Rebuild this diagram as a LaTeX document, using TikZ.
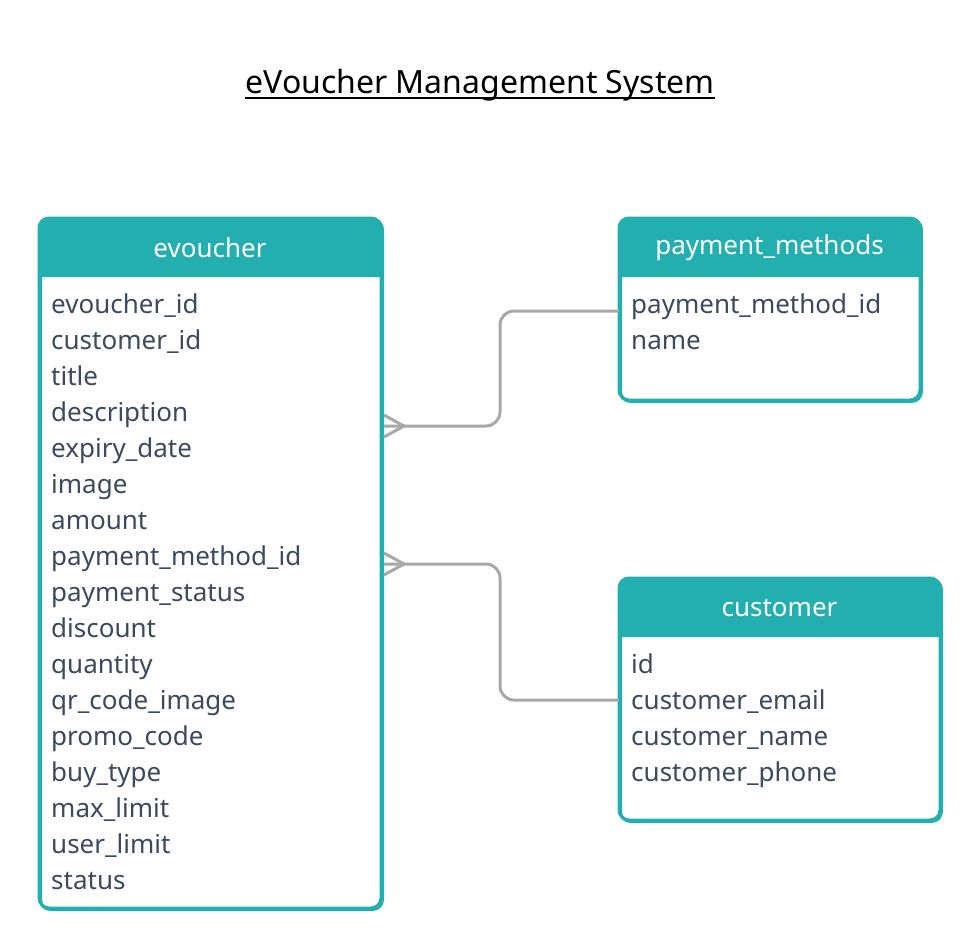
\documentclass[tikz,border=0pt]{standalone}
\usepackage{fontspec}
\setmainfont{Noto Sans}
\usetikzlibrary{calc}
\definecolor{tealc}{HTML}{23AFAF}
\definecolor{txtc}{HTML}{3B4A5E}
\definecolor{linec}{HTML}{A8A8A8}
\tikzset{
  tbox/.style={draw=tealc, line width=3pt, rounded corners=10pt, fill=white},
  thead/.style={fill=tealc},
  htext/.style={text=white, font=\fontsize{26}{30}\selectfont, inner sep=0pt},
  row/.style={text=txtc, font=\fontsize{26}{30}\selectfont, inner sep=0pt, anchor=base west},
  conn/.style={draw=linec, line width=3pt, rounded corners=14pt},
  crow/.style={draw=linec, line width=3pt}
}
\begin{document}
\begin{tikzpicture}[x=1pt,y=-1pt]
\useasboundingbox (0,0) rectangle (980,948);
\node[font=\fontsize{32}{36}\selectfont, inner sep=0pt, anchor=base] (title) at (480,93) {eVoucher Management System};
\draw[line width=2pt] ($(title.base west)+(0,5)$) -- ($(title.base east)+(0,5)$);

% evoucher table
\node[tbox, minimum width=342pt, minimum height=690pt, anchor=north west, inner sep=0pt] (evoucher) at (39,218) {};
\fill[thead] (39,277) [rounded corners=10pt]-- (39,218) -- (381,218) [sharp corners]-- (381,277) -- cycle;
\draw[tealc, line width=3pt, rounded corners=10pt] (39,218) rectangle (381,908);
\node[htext] (evh) at (210,248) {evoucher};
\foreach \t [count=\i from 0] in {evoucher\_id,customer\_id,title,description,expiry\_date,image,amount,payment\_method\_id,payment\_status,discount,quantity,qr\_code\_image,promo\_code,buy\_type,max\_limit,user\_limit,status}
  \node[row] (ev\i) at (51,{313+36*\i}) {\t};

% payment_methods table
\node[tbox, minimum width=301pt, minimum height=182pt, anchor=north west, inner sep=0pt] (pm) at (619,218) {};
\fill[thead] (619,277) [rounded corners=10pt]-- (619,218) -- (920,218) [sharp corners]-- (920,277) -- cycle;
\draw[tealc, line width=3pt, rounded corners=10pt] (619,218) rectangle (920,400);
\node[htext] (pmh) at (769.5,248) {payment\_methods};
\node[row] (pm0) at (631,313) {payment\_method\_id};
\node[row] (pm1) at (631,349) {name};

% customer table
\node[tbox, minimum width=321pt, minimum height=242pt, anchor=north west, inner sep=0pt] (cu) at (619,578) {};
\fill[thead] (619,637) [rounded corners=10pt]-- (619,578) -- (940,578) [sharp corners]-- (940,637) -- cycle;
\draw[tealc, line width=3pt, rounded corners=10pt] (619,578) rectangle (940,820);
\node[htext] (cuh) at (779.5,608) {customer};
\node[row] (cu0) at (631,673) {id};
\node[row] (cu1) at (631,709) {customer\_email};
\node[row] (cu2) at (631,745) {customer\_name};
\node[row] (cu3) at (631,781) {customer\_phone};

% connectors
\coordinate (a1) at (evoucher.east |- 0,426);
\coordinate (b1) at (pm.west |- 0,311);
\coordinate (a2) at (evoucher.east |- 0,564);
\coordinate (b2) at (cu.west |- 0,700);
\draw[conn] (a1) -- (500,426) -- (500,311) -- (b1);
\draw[crow] ($(a1)+(0,-11)$) -- ($(a1)+(20,0)$) -- ($(a1)+(0,11)$);
\draw[conn] (a2) -- (500,564) -- (500,700) -- (b2);
\draw[crow] ($(a2)+(0,-11)$) -- ($(a2)+(20,0)$) -- ($(a2)+(0,11)$);
\end{tikzpicture}
\end{document}
